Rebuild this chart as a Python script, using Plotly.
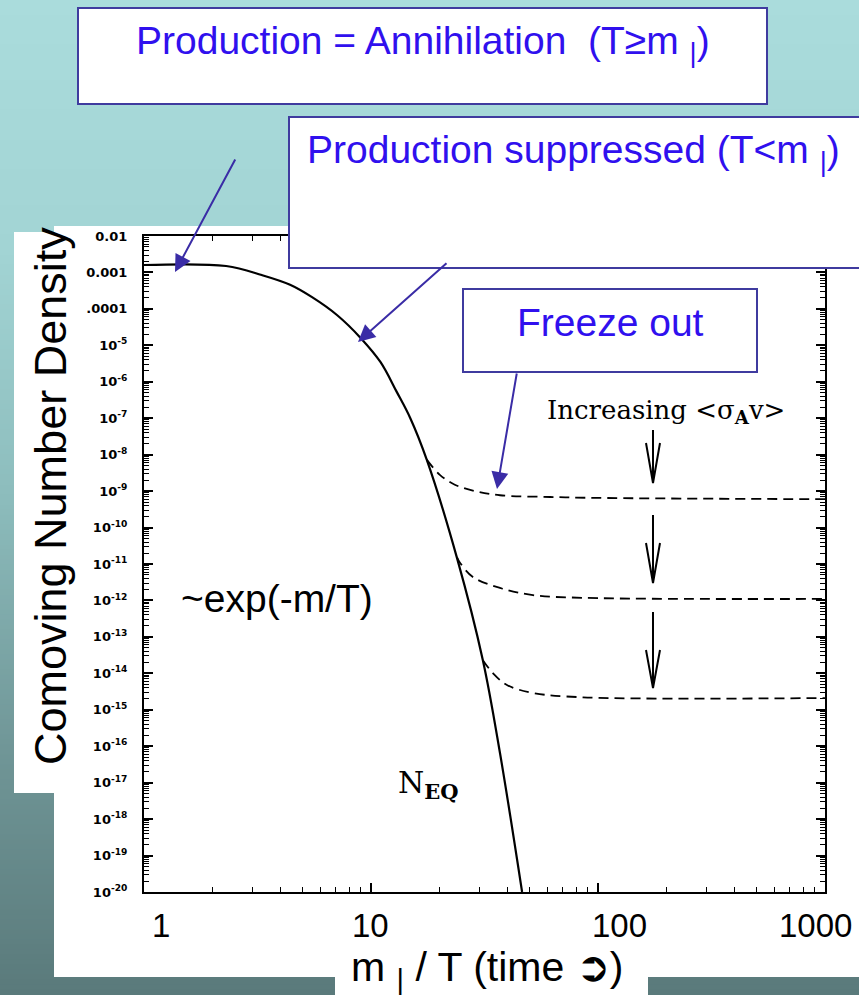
import math
import plotly.graph_objects as go

# ---------------- data ----------------
# equilibrium abundance N_EQ (solid)
x_eq = [1.0, 2.3, 3.3, 4.4, 5.5, 7.1, 9.0, 11.0, 13.0, 14.9, 17.6, 23.9, 31.1, 37.0, 46.3]
y_eq = [1.6e-3, 1.5e-3, 8.5e-4, 4.6e-4, 2.1e-4, 6.7e-5, 1.6e-5, 3.5e-6, 5.2e-7,
        1.0e-7, 7.3e-9, 1.5e-11, 2.3e-14, 6.5e-17, 1.0e-20]

# freeze-out curves (dashed), increasing <sigma_A v> from top to bottom
x_fo1 = [17.6, 20.1, 23.4, 28.7, 37.0, 61.5, 102.0, 1000.0]
y_fo1 = [7.3e-9, 2.8e-9, 1.5e-9, 1.0e-9, 7.7e-10, 6.9e-10, 6.5e-10, 6.0e-10]
x_fo2 = [23.9, 24.7, 28.1, 37.0, 51.7, 85.9, 1000.0]
y_fo2 = [1.55e-11, 1.07e-11, 4.4e-12, 2.2e-12, 1.4e-12, 1.18e-12, 1.1e-12]
x_fo3 = [31.1, 34.5, 39.7, 51.7, 85.9, 1000.0]
y_fo3 = [2.3e-14, 1.0e-14, 4.8e-15, 2.9e-15, 2.2e-15, 2.1e-15]

# tick labels
x_tick_vals = [1, 10, 100, 1000]
x_tick_text = ["1", "10", "100", "1000"]
y_tick_vals = [1e-2, 1e-3, 1e-4, 1e-5, 1e-6, 1e-7, 1e-8, 1e-9, 1e-10, 1e-11, 1e-12,
               1e-13, 1e-14, 1e-15, 1e-16, 1e-17, 1e-18, 1e-19, 1e-20]
y_tick_text = ["0.01", "0.001", ".0001", "10<sup>-5</sup>", "10<sup>-6</sup>",
               "10<sup>-7</sup>", "10<sup>-8</sup>", "10<sup>-9</sup>", "10<sup>-10</sup>",
               "10<sup>-11</sup>", "10<sup>-12</sup>", "10<sup>-13</sup>", "10<sup>-14</sup>",
               "10<sup>-15</sup>", "10<sup>-16</sup>", "10<sup>-17</sup>", "10<sup>-18</sup>",
               "10<sup>-19</sup>", "10<sup>-20</sup>"]

# ---------------- layout / style ----------------
WIDTH, HEIGHT = 859, 995
L, T, W, H = 144, 236, 681, 656          # plot area in pixels
SANS = "Liberation Sans, Arial, sans-serif"
SERIF = "DejaVu Serif, Century Schoolbook, serif"
BLUE_TXT = "#3010ee"
BOX_LINE = "#3f3b9f"
ARROW_C = "#3a2ca6"
X_LABEL_SHIFT = [17, -1, 21, -10]


def px(x):
    return (x - L) / W


def py(y):
    return (T + H - y) / H


def lerp(a, b, t):
    return tuple(int(round(a[i] + (b[i] - a[i]) * t)) for i in range(3))


fig = go.Figure()

dash_style = dict(color="black", width=1.8, dash="10px,6px")
fig.add_trace(go.Scatter(x=x_eq, y=y_eq, mode="lines", line=dict(color="black", width=2.2),
                         line_shape="spline", name="N_EQ", showlegend=False))
for xs, ys in ((x_fo1, y_fo1), (x_fo2, y_fo2), (x_fo3, y_fo3)):
    fig.add_trace(go.Scatter(x=xs, y=ys, mode="lines", line=dash_style, line_shape="spline",
                             showlegend=False))

shapes = []
# background gradient
stops = [(0, (170, 220, 220)), (250, (162, 212, 212)), (500, (140, 188, 188)),
         (750, (112, 150, 151)), (995, (90, 122, 123))]
band = 5
for y0 in range(0, HEIGHT, band):
    yc = y0 + band / 2
    for i in range(len(stops) - 1):
        if stops[i][0] <= yc <= stops[i + 1][0]:
            t = (yc - stops[i][0]) / (stops[i + 1][0] - stops[i][0])
            c = lerp(stops[i][1], stops[i + 1][1], t)
            break
    shapes.append(dict(type="rect", xref="paper", yref="paper", layer="below",
                       x0=px(-2), x1=px(WIDTH + 2), y0=py(y0 - 0.5), y1=py(y0 + band + 0.5),
                       line=dict(width=0), fillcolor="rgb(%d,%d,%d)" % c))
# white panels
for (x0, y0, x1, y1) in ((54, 226, 862, 977), (14, 232, 54, 793), (335, 950, 648, 998)):
    shapes.append(dict(type="rect", xref="paper", yref="paper", layer="below",
                       x0=px(x0), x1=px(x1), y0=py(y1), y1=py(y0),
                       line=dict(width=0), fillcolor="white"))
# bordered callout boxes
for (x0, y0, x1, y1) in ((78, 8, 767, 104), (289, 117, 870, 268), (463, 289, 757, 372)):
    shapes.append(dict(type="rect", xref="paper", yref="paper", layer="above",
                       x0=px(x0), x1=px(x1), y0=py(y1), y1=py(y0),
                       line=dict(width=2, color=BOX_LINE), fillcolor="white"))
# black open-V arrows ("Increasing <sigma v>")
for (top, tip, vtop) in ((430, 483, 443), (515, 583, 543), (612, 688, 650)):
    xc = 653
    path = "M %f,%f L %f,%f M %f,%f L %f,%f L %f,%f" % (
        px(xc), py(top), px(xc), py(tip),
        px(xc - 7), py(vtop), px(xc), py(tip), px(xc + 7), py(vtop))
    shapes.append(dict(type="path", xref="paper", yref="paper", layer="above", path=path,
                       line=dict(color="black", width=2)))

annotations = []


def txt(text, cx, cy, size, color="black", family=SANS, **kw):
    d = dict(text=text, x=px(cx), y=py(cy), xref="paper", yref="paper", showarrow=False,
             xanchor="center", yanchor="middle", font=dict(size=size, color=color, family=family))
    d.update(kw)
    annotations.append(d)


txt("Production = Annihilation  (T≥m <sub>|</sub>)", 423, 44, 39, BLUE_TXT)
txt("Production suppressed (T&lt;m <sub>|</sub>)", 573, 152, 39, BLUE_TXT)
txt("Freeze out", 610, 322, 39, BLUE_TXT)
txt("~exp(-m/T)", 277, 598, 39)
txt("Increasing &lt;σ<sub><b>A</b></sub>v&gt;", 666, 411, 26, family=SERIF)
txt("N<sub><b>EQ</b></sub>", 428, 784, 30, family=SERIF)
txt("m <sub>|</sub> / T (time ➲)", 487, 970, 41)
txt("Comoving Number Density", 50, 496, 45, textangle=-90)

# big x tick labels placed on the log axis
for v, lab, sh in zip(x_tick_vals, x_tick_text, X_LABEL_SHIFT):
    annotations.append(dict(text=lab, x=math.log10(v), y=py(925), xref="x", yref="paper",
                            xshift=sh, showarrow=False, xanchor="center", yanchor="middle",
                            font=dict(size=33, color="black", family=SANS)))

# blue callout arrows: (tail_x, tail_y, tip_x, tip_y)
for (tx, ty, hx, hy) in ((236, 158, 175, 272), (448, 262, 358, 342), (517, 372, 497, 489)):
    annotations.append(dict(text="", x=px(hx), y=py(hy), xref="paper", yref="paper",
                            ax=tx - hx, ay=ty - hy, axref="pixel", ayref="pixel",
                            showarrow=True, arrowhead=2, arrowsize=1.7, arrowwidth=2,
                            arrowcolor=ARROW_C))

fig.update_layout(
    width=WIDTH, height=HEIGHT, autosize=False,
    margin=dict(l=L, r=WIDTH - L - W, t=T, b=HEIGHT - T - H, pad=0),
    paper_bgcolor="rgb(130,175,176)", plot_bgcolor="white",
    shapes=shapes, annotations=annotations, showlegend=False,
    xaxis=dict(type="log", range=[0, 3], tickvals=x_tick_vals, ticktext=x_tick_text,
               showticklabels=False, ticks="inside", ticklen=9, tickwidth=1.5,
               tickcolor="black", showline=True, linecolor="black", linewidth=2,
               mirror="ticks", showgrid=False, zeroline=False,
               minor=dict(ticks="inside", ticklen=5, tickwidth=1.2, tickcolor="black",
                          dtick="D1", showgrid=False)),
    yaxis=dict(type="log", range=[-20, -2], tickvals=y_tick_vals, ticktext=y_tick_text,
               ticks="inside", ticklen=9, tickwidth=1.8, tickcolor="black",
               showline=True, linecolor="black", linewidth=2, mirror="ticks",
               showgrid=False, zeroline=False, ticklabelstandoff=12,
               tickfont=dict(family="DejaVu Sans, Arial, sans-serif", size=13,
                             color="black", weight="bold"),
               minor=dict(ticks="inside", ticklen=5, tickwidth=1.2, tickcolor="black",
                          dtick="D1", showgrid=False)),
)

fig.write_html("out.html")
